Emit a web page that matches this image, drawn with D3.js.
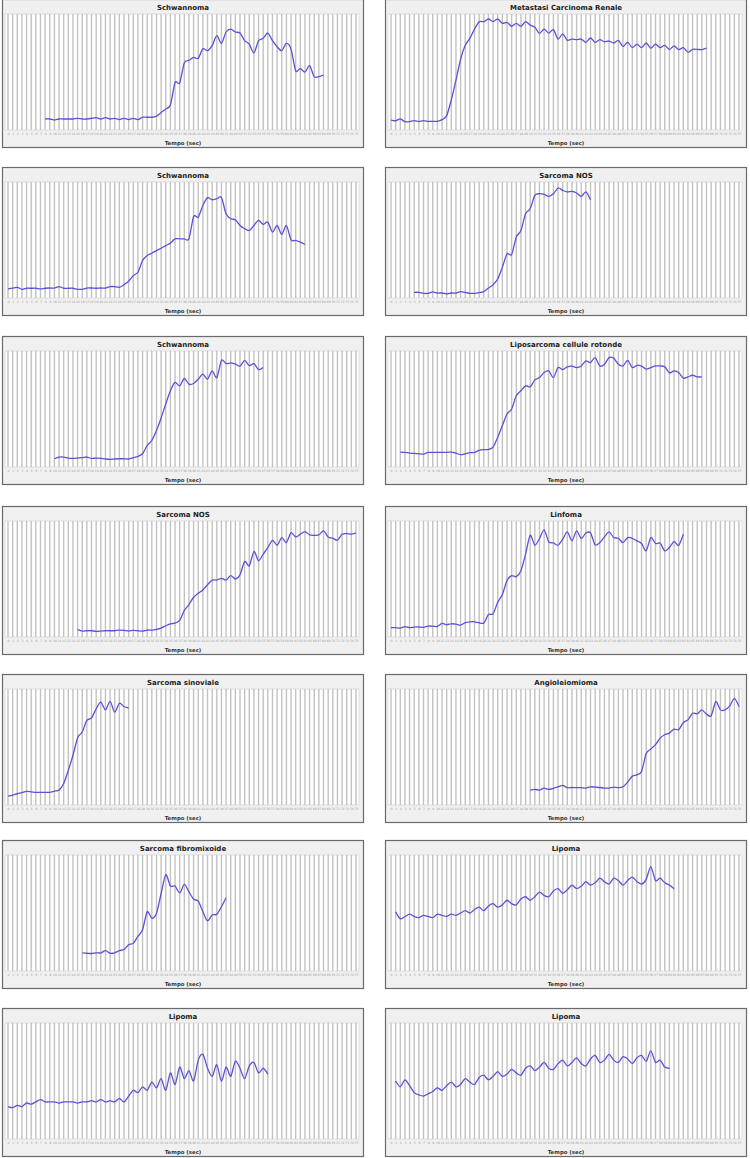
<!DOCTYPE html>
<html>
<head>
<meta charset="utf-8">
<script src="https://cdn.jsdelivr.net/npm/d3@7"></script>
<style>
  body { margin: 0; background: #fff; }
  svg { display: block; }
</style>
</head>
<body>
<svg width="750" height="1158"></svg>
<script>
// x categories: seconds 0..75
const seconds = d3.range(0, 76);

const titles = [
  'Schwannoma', 'Metastasi Carcinoma Renale',
  'Schwannoma', 'Sarcoma NOS',
  'Schwannoma', 'Liposarcoma cellule rotonde',
  'Sarcoma NOS', 'Linfoma',
  'Sarcoma sinoviale', 'Angioleiomioma',
  'Sarcoma fibromixoide', 'Lipoma',
  'Lipoma', 'Lipoma',
];

// first second of each curve
const starts = [8, 0, 0, 5, 10, 2, 15, 0, 0, 30, 16, 1, 0, 1];

// signal intensity, 0..100 of plot height
const schwannoma1 = [9.5, 9.5, 8.6, 9.5, 9.5, 9.5, 9.5, 10, 9.5, 9.5, 10, 10.6, 9.5, 10.6, 9.5, 10, 9, 10, 9, 10, 9, 11, 11, 11, 12,
  15, 18, 21.5, 41, 40.5, 58, 60, 62.6, 61.8, 70, 68.4, 72.7, 81.3, 74.7, 84.5, 87, 84.5, 83.6, 77, 74, 66.4, 77, 79, 83.6, 77,
  71.8, 68.4, 74.7, 69.8, 51, 53, 50, 55.5, 46, 46, 47.4];
const renale = [8.6, 8, 9.5, 7.2, 7.2, 8, 7.2, 8, 7.5, 7.5, 7.5, 8.9, 12.4, 26, 43, 61, 73, 79, 87, 93.4,
  93.4, 95.7, 93.4, 95.7, 92, 92.8, 89.4, 92, 89.4, 93.4, 90.5, 88.5, 83.3, 87, 83.6, 86.5, 78.4, 82.8, 77.3, 78.4,
  77.9, 78.4, 75.6, 79.3, 75.6, 77.9, 76.1, 76.7, 75, 77.3, 72, 75.6, 71, 74, 71, 75, 70.5, 74, 71, 73,
  69.5, 72.5, 69.3, 71, 67, 69.5, 69.5, 69.3, 70.5];
const schwannoma2 = [7.8, 8.6, 9.2, 7.5, 8.4, 8.4, 8.4, 7.8, 8.4, 8.6, 8.6, 9.8, 8.4, 8.4, 8.4, 7.5, 7.5, 8.6, 8.6, 8.4,
  8.6, 8.6, 9.8, 9.8, 9.2, 11.5, 14.4, 19.3, 22.2, 32.3, 36.6, 38.6, 40.9, 42.9, 45.2, 47.3, 51, 51, 51, 51,
  70.3, 69.7, 79.8, 86.5, 84.7, 85.6, 86.5, 72.6, 68.3, 67.4, 62.5, 59.7, 58.2, 62.5, 66.9, 63.4, 65.4, 56.8, 62.5, 54.8,
  62.5, 50.1, 49.6, 48.1, 46.1];
const sarcomaNos1 = [4.9, 4.9, 4, 4, 5.2, 4.3, 4.3, 3.5, 4.3, 4.3, 5.5, 4.9, 4, 4, 4.6, 5.5, 8.6, 11.5, 16.4, 26.5,
  38, 37.5, 52.4, 58.2, 72.6, 77, 88.5, 89.9, 89.3, 87.6, 89.9, 94.8, 92.8, 91.4, 91.9, 90.5, 87.6, 91.4, 84.7];
const schwannoma3 = [7.1, 8.6, 8.6, 7.7, 7.4, 7.7, 8, 8.6, 7.4, 7.7, 7.4, 6.9, 6.6, 6.9, 7.1, 7.1, 6.9, 8, 9.1, 11.4,
  18.6, 22.9, 31.4, 42.3, 54.3, 65.7, 72.9, 70, 76.3, 71.4, 72, 75.7, 80, 75.7, 82.9, 77.1, 92, 89.1, 89.7, 88.6,
  86.9, 92, 87.4, 89.1, 84, 85.7];
const liposarcoma = [12.9, 12.6, 12, 11.7, 11.4, 11.1, 12.6, 12.6, 12.6, 12.6, 12.6, 12.9, 12, 10.6, 11.4, 12.3, 12.6, 14.3, 14.9, 15.1,
  17.1, 25.7, 35.7, 45.7, 50, 61.4, 65.7, 70, 69.1, 75.1, 77.1, 81.4, 82.9, 77.1, 85.7, 84, 86.3, 86.9, 85.7, 87.1,
  91.4, 90, 94.3, 87.1, 88.6, 94.3, 93.7, 88.6, 87.1, 92, 85.7, 87.7, 86.9, 84.3, 85.7, 87.1, 87.1, 86.3, 81.1, 82.9,
  81.4, 76.6, 77.7, 79.1, 77.7, 77.7];
const sarcomaNos2 = [6.3, 5.1, 5.4, 5.4, 4.9, 5.1, 5.4, 5.4, 5.4, 6, 5.7, 5.1, 5.7, 5.4, 5.1, 6, 6, 6.6, 7.7, 9.7,
  11.4, 12, 14.3, 22.9, 28, 34.3, 37.7, 40.6, 45.1, 49.1, 49.1, 50.6, 49.1, 52.9, 50, 53.7, 65.1, 61.4, 73.7, 65.7,
  71.4, 77.1, 83.4, 79.1, 85.7, 81.4, 90, 86.3, 88.6, 90.9, 88, 87.7, 88, 91.4, 86.3, 85.1, 83.4, 88.6, 89.1, 88.6, 89.7];
const linfoma = [8, 8, 7.7, 8.9, 8, 8.6, 8.6, 8.3, 9.4, 9.4, 9.1, 11.7, 10.6, 11.4, 11.1, 10.3, 12.3, 13.1, 13.1, 12.3,
  12, 19.4, 20, 30, 36.6, 48.6, 52.9, 52, 57.1, 71.4, 87.7, 79.1, 84.9, 92.3, 82, 81.1, 79.1, 84.3, 90.6, 82.9,
  91.4, 84.9, 89.7, 89.7, 79.4, 81.4, 86.3, 90.6, 85.7, 85.1, 81.4, 85.7, 85.1, 82.9, 80.6, 74.3, 85.7, 80.6, 80.9, 74.3,
  77.1, 82.3, 79.1, 88.6];
const sinoviale = [7.7, 8.6, 9.7, 10.6, 11.7, 11.4, 10.9, 10.9, 10.9, 10.9, 12, 12.9, 18.6, 30, 42.9, 58, 62.9, 72.9, 75.1, 82.9,
  88.6, 82, 89.4, 80, 87.7, 84.9, 83.7];
const angioleiomioma = [12.9, 13.4, 12.9, 14.6, 13.4, 14.3, 15.7, 16.9, 14.9, 15.1, 14.9, 14.9, 14.6, 15.7, 15.4, 15.1, 14.6, 14.6, 15.4, 14.9,
  15.7, 19.7, 24.9, 26, 28.9, 44.3, 48.3, 52, 57.7, 60.6, 62, 65.4, 64.9, 71.1, 73.4, 79.1, 78.6, 82, 78.3, 76.9,
  89.1, 82, 82, 85.4, 92, 84.9];
const fibromixoide = [15.6, 15.3, 15.1, 15.6, 15.6, 17.6, 15.3, 15.6, 17.6, 18.5, 22.7, 23.9, 29.8, 35.5, 51.1, 45.5, 49.7, 66.8, 83, 73.3,
  73.3, 67.3, 74.7, 68.2, 61.9, 60.2, 51.1, 43.2, 48.3, 48.9, 55.4, 63.1];
const lipoma1 = [51, 45, 47, 49, 47, 46, 48, 47, 46, 49, 48, 47, 49, 48, 50, 52, 50, 53, 55, 52,
  56, 58, 55, 57, 61, 58, 57, 62, 64, 61, 64, 68, 65, 64, 69, 71, 67, 70, 74, 71,
  73, 77, 74, 76, 80, 77, 75, 80, 78, 74, 78, 81, 77, 75, 79, 90, 78, 80, 76, 74, 71];
const lipoma2 = [28, 27, 29, 28, 31, 30, 32, 34, 32, 32, 32, 31, 32, 32, 32, 31, 32, 32, 33, 32,
  34, 32, 33, 32, 35, 32, 37, 42, 40, 45, 42, 49, 44, 52, 42, 57, 47, 62, 52, 59,
  50, 68, 73, 61, 54, 64, 50, 62, 54, 67, 61, 52, 63, 66, 57, 61, 56];
const lipoma3 = [50, 45, 51, 46, 40, 38, 37, 39, 41, 44, 42, 46, 49, 45, 47, 52, 49, 47, 53, 55,
  51, 54, 58, 54, 56, 60, 57, 55, 61, 63, 59, 62, 66, 61, 60, 65, 68, 63, 66, 70,
  65, 63, 69, 72, 66, 68, 73, 68, 66, 71, 69, 65, 70, 72, 67, 76, 66, 68, 62, 61];

const curves = [schwannoma1, renale, schwannoma2, sarcomaNos1, schwannoma3, liposarcoma,
  sarcomaNos2, linfoma, sinoviale, angioleiomioma, fibromixoide, lipoma1, lipoma2, lipoma3];

const svg = d3.select('svg');

const W = 362, H = 149;
const colX = [2, 385];
const rowY = [-1, 167, 336, 506, 674, 840, 1008];

const x = d3.scalePoint().domain(seconds).range([6, 354]);
const y = d3.scaleLinear().domain([0, 100]).range([131, 15]);

const line = d3.line()
  .x(d => x(d.t))
  .y(d => y(d.v))
  .curve(d3.curveCardinal.tension(0.2));

titles.forEach((title, k) => {
  const g = svg.append('g')
    .attr('transform', `translate(${colX[k % 2]},${rowY[Math.floor(k / 2)]})`);

  // panel frame
  g.append('rect')
    .attr('x', 0.5).attr('y', 0.5)
    .attr('width', W - 1).attr('height', H - 1)
    .attr('fill', '#f0f0f0')
    .attr('stroke', '#6a6a6a')
    .attr('stroke-width', 1.2);

  // plot area
  g.append('rect')
    .attr('x', 3).attr('y', 15)
    .attr('width', 354).attr('height', 116)
    .attr('fill', '#fff')
    .attr('stroke', '#d0d0d0')
    .attr('stroke-width', 0.6);

  g.append('g')
    .selectAll('line')
    .data(seconds)
    .join('line')
    .attr('x1', d => x(d)).attr('x2', d => x(d))
    .attr('y1', 15).attr('y2', 131)
    .attr('stroke', '#c2c2c2')
    .attr('stroke-width', 1.4);

  // x axis, tiny labels
  const ax = g.append('g')
    .attr('transform', 'translate(0,131)')
    .call(d3.axisBottom(x).tickSize(0).tickPadding(3));
  ax.select('.domain').remove();
  ax.selectAll('text')
    .attr('font-size', 3)
    .attr('font-family', 'DejaVu Sans, sans-serif')
    .attr('fill', '#9a9a9a');

  g.append('text')
    .attr('x', W / 2).attr('y', 10.5)
    .attr('text-anchor', 'middle')
    .attr('font-family', 'DejaVu Sans, sans-serif')
    .attr('font-weight', 'bold')
    .attr('font-size', 7)
    .attr('fill', '#222')
    .text(title);

  g.append('text')
    .attr('x', W / 2).attr('y', 145.5)
    .attr('text-anchor', 'middle')
    .attr('font-family', 'DejaVu Sans, sans-serif')
    .attr('font-weight', 'bold')
    .attr('font-size', 5.4)
    .attr('fill', '#333')
    .text('Tempo (sec)');

  const pts = curves[k].map((v, i) => ({ t: starts[k] + i, v }));

  g.append('path')
    .datum(pts)
    .attr('d', line)
    .attr('fill', 'none')
    .attr('stroke', '#5b52d6')
    .attr('stroke-width', 1.3)
    .attr('stroke-linejoin', 'round');
});
</script>
</body>
</html>
